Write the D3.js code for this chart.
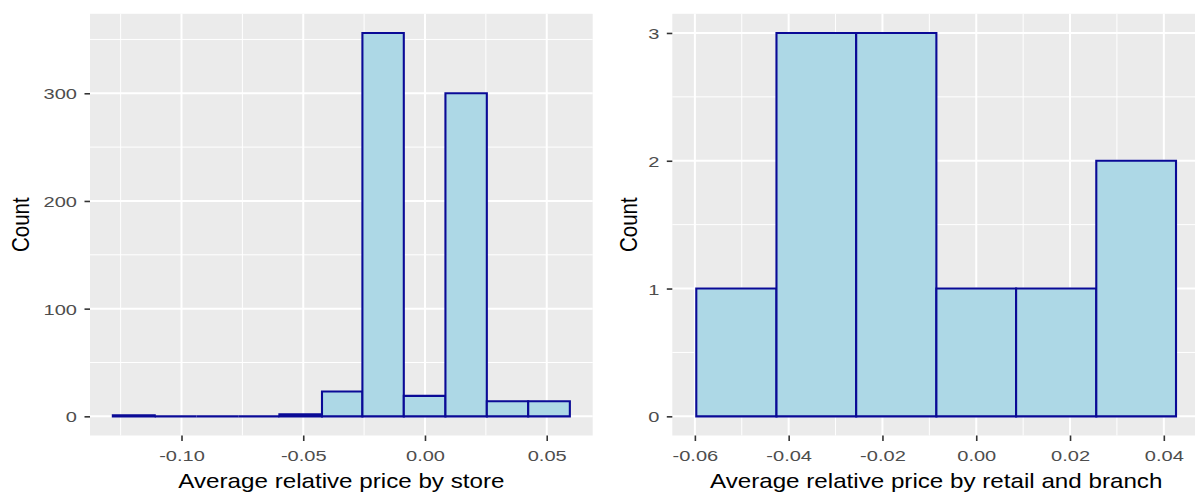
<!DOCTYPE html>
<html>
<head>
<meta charset="utf-8">
<script src="https://cdn.jsdelivr.net/npm/d3@7"></script>
<style>
  html, body { margin: 0; padding: 0; background: #fff; }
  svg { display: block; font-family: "Liberation Sans", Arial, sans-serif; }
</style>
</head>
<body>
<svg id="chart" width="1195" height="493"></svg>
<script>
// ---- Data ----
const storeEdges = [-0.1282, -0.1110, -0.0938, -0.0767, -0.0598, -0.0423, -0.0257, -0.0087, 0.0084, 0.0254, 0.0424, 0.0595];
const storeCounts = [1, 0, 0, 0, 2, 23, 356, 19, 300, 14, 14];
const storeXTicks = [-0.10, -0.05, 0.00, 0.05];
const storeXTickLabels = ["-0.10", "-0.05", "0.00", "0.05"];
const storeXMinor = [-0.125, -0.075, -0.025, 0.025];
const storeYTicks = [0, 100, 200, 300];
const storeYTickLabels = ["0", "100", "200", "300"];
const storeYMinor = [50, 150, 250, 350];
const storeTitle = "Average relative price by store";

const retailEdges = [-0.0597, -0.0426, -0.0256, -0.0085, 0.0085, 0.0256, 0.0426];
const retailCounts = [1, 3, 3, 1, 1, 2];
const retailXTicks = [-0.06, -0.04, -0.02, 0.00, 0.02, 0.04];
const retailXTickLabels = ["-0.06", "-0.04", "-0.02", "0.00", "0.02", "0.04"];
const retailXMinor = [-0.05, -0.03, -0.01, 0.01, 0.03];
const retailYTicks = [0, 1, 2, 3];
const retailYTickLabels = ["0", "1", "2", "3"];
const retailYMinor = [0.5, 1.5, 2.5];
const retailTitle = "Average relative price by retail and branch";

const yTitle = "Count";

// ---- Drawing ----
const svg = d3.select("#chart");
svg.append("rect").attr("width", 1195).attr("height", 493).attr("fill", "#ffffff");

const TICK_SX = 1.32, TITLE_SX = 1.18;

function expand(lo, hi) { const e = (hi - lo) * 0.05; return [lo - e, hi + e]; }

function panel(opt) {
  const g = svg.append("g");
  const xDom = expand(d3.min(opt.edges), d3.max(opt.edges));
  const yDom = expand(0, d3.max(opt.counts));
  const x = d3.scaleLinear().domain(xDom).range(opt.xRange);
  const y = d3.scaleLinear().domain(yDom).range(opt.yRange);
  const [x0, x1] = opt.xRange, [yb, yt] = opt.yRange;

  // background
  g.append("rect").attr("x", x0).attr("y", yt).attr("width", x1 - x0).attr("height", yb - yt).attr("fill", "#EBEBEB");

  // minor grid
  g.selectAll(".vminor").data(opt.xMinor).join("line")
    .attr("x1", d => x(d)).attr("x2", d => x(d)).attr("y1", yt).attr("y2", yb)
    .attr("stroke", "#fff").attr("stroke-width", 1);
  g.selectAll(".hminor").data(opt.yMinor).join("line")
    .attr("y1", d => y(d)).attr("y2", d => y(d)).attr("x1", x0).attr("x2", x1)
    .attr("stroke", "#fff").attr("stroke-width", 1);
  // major grid
  g.selectAll(".vmajor").data(opt.xTicks).join("line")
    .attr("x1", d => x(d)).attr("x2", d => x(d)).attr("y1", yt).attr("y2", yb)
    .attr("stroke", "#fff").attr("stroke-width", 2);
  g.selectAll(".hmajor").data(opt.yTicks).join("line")
    .attr("y1", d => y(d)).attr("y2", d => y(d)).attr("x1", x0).attr("x2", x1)
    .attr("stroke", "#fff").attr("stroke-width", 2);

  // bars (paths so zero-height bins still show their outline)
  const bins = opt.counts.map((c, i) => ({ a: opt.edges[i], b: opt.edges[i + 1], c }));
  g.selectAll(".bar").data(bins).join("path")
    .attr("d", d => {
      const p = d3.path();
      p.rect(x(d.a), y(d.c), x(d.b) - x(d.a), y(0) - y(d.c));
      return p.toString();
    })
    .attr("fill", "#ADD8E6").attr("stroke", "#0A0A96").attr("stroke-width", 2.1);

  // axes
  const xa = g.append("g").attr("transform", `translate(0,${yb})`)
    .call(d3.axisBottom(x).tickValues(opt.xTicks).tickFormat((d, i) => opt.xTickLabels[i]).tickSize(5.5).tickSizeOuter(0));
  xa.select(".domain").remove();
  xa.selectAll(".tick line").attr("stroke", "#333333").attr("stroke-width", 1.6);
  xa.selectAll(".tick text").attr("fill", "#4D4D4D").style("font-size", "15.2px")
    .attr("y", 25.5).attr("dy", 0)
    .attr("transform", `scale(${TICK_SX},1)`);

  const ya = g.append("g").attr("transform", `translate(${x0},0)`)
    .call(d3.axisLeft(y).tickValues(opt.yTicks).tickFormat((d, i) => opt.yTickLabels[i]).tickSize(5.5).tickSizeOuter(0));
  ya.select(".domain").remove();
  ya.selectAll(".tick line").attr("stroke", "#333333").attr("stroke-width", 1.6);
  ya.selectAll(".tick text").attr("fill", "#4D4D4D").style("font-size", "15.2px")
    .attr("x", -13 / TICK_SX).attr("dy", "0.36em")
    .attr("transform", `scale(${TICK_SX},1)`);

  // titles
  g.append("text").text(opt.title)
    .attr("transform", `translate(${(x0 + x1) / 2},487.5) scale(${TITLE_SX},1)`)
    .attr("text-anchor", "middle").style("font-size", "20.5px").attr("fill", "#000");
  g.append("text").text(yTitle)
    .attr("transform", `translate(${opt.yTitleX},${(yb + yt) / 2}) scale(${TITLE_SX},1) rotate(-90)`)
    .attr("text-anchor", "middle").attr("dy", "0.36em").style("font-size", "20.5px").attr("fill", "#000");
}

panel({
  edges: storeEdges, counts: storeCounts,
  xTicks: storeXTicks, xTickLabels: storeXTickLabels, xMinor: storeXMinor,
  yTicks: storeYTicks, yTickLabels: storeYTickLabels, yMinor: storeYMinor,
  title: storeTitle, xRange: [90, 592.7], yRange: [435.5, 13.8], yTitleX: 20
});
panel({
  edges: retailEdges, counts: retailCounts,
  xTicks: retailXTicks, xTickLabels: retailXTickLabels, xMinor: retailXMinor,
  yTicks: retailYTicks, yTickLabels: retailYTickLabels, yMinor: retailYMinor,
  title: retailTitle, xRange: [672.3, 1200], yRange: [435.5, 13.8], yTitleX: 628
});
</script>
</body>
</html>
